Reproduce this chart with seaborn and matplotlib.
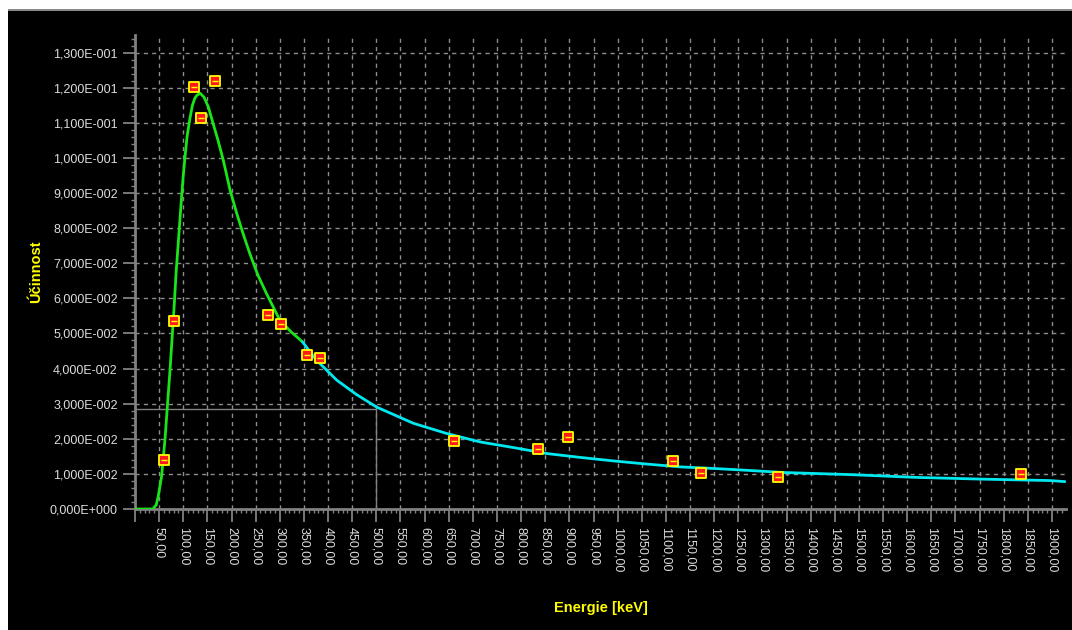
import numpy as np
import pandas as pd
import matplotlib
matplotlib.use("Agg")
import matplotlib.pyplot as plt
import seaborn as sns
from matplotlib.ticker import FuncFormatter, MultipleLocator
from matplotlib.patches import Rectangle

# measured points: energy [keV], efficiency
point_energy = [59.5, 81.0, 122.1, 136.5, 165.9, 276.4, 302.9, 356.0, 383.8,
                661.7, 834.8, 898.0, 1115.5, 1173.2, 1332.5, 1836.1]
point_eff = [0.0139, 0.0535, 0.1203, 0.1115, 0.1220, 0.0552, 0.0526, 0.0438, 0.0430,
             0.0194, 0.0171, 0.0206, 0.0137, 0.0103, 0.0092, 0.0100]

# fitted curve, low-energy part (green)
low_energy = [0, 37, 44, 48, 55, 62, 67, 72.5, 77, 81.5, 85, 90, 95, 100, 104, 108,
              114, 119, 124, 128, 135, 143, 152, 162, 172, 183, 197, 211, 224, 238,
              255, 273, 300, 323, 347]
low_eff = [0, 0, 0.0012, 0.0035, 0.0092, 0.0196, 0.0291, 0.0395, 0.0490, 0.0585,
           0.0670, 0.0765, 0.0860, 0.0950, 0.1008, 0.1062, 0.1114, 0.1150, 0.1170,
           0.1178, 0.1184, 0.1173, 0.1145, 0.1097, 0.1050, 0.0993, 0.0908, 0.0841,
           0.0784, 0.0727, 0.0665, 0.0612, 0.0538, 0.0505, 0.0476]

# fitted curve, high-energy part (cyan)
high_energy = [347, 376, 418, 459, 501, 577, 646, 715, 784, 853, 922, 991, 1060,
               1129, 1205, 1270, 1343, 1481, 1619, 1757, 1896, 1927]
high_eff = [0.0476, 0.0424, 0.0367, 0.0326, 0.0290, 0.0244, 0.0215, 0.0191, 0.0175,
            0.0158, 0.0147, 0.0137, 0.0128, 0.0120, 0.0115, 0.0110, 0.0104, 0.0098,
            0.0090, 0.0085, 0.0081, 0.0078]

cursor_energy = 500
cursor_eff = 0.0286

sns.set_theme(style="dark")
plt.rcParams['font.family'] = ['Liberation Sans', 'DejaVu Sans']

fig = plt.figure(figsize=(10.72, 6.3), dpi=100)
fig.patch.set_facecolor("white")
fig.patches.append(Rectangle((8 / 1072, 0), 1, 1 - 11 / 630, transform=fig.transFigure,
                             facecolor="black", edgecolor="none", zorder=-2))
fig.patches.append(Rectangle((8 / 1072, 1 - 11 / 630), 1, 2 / 630, transform=fig.transFigure,
                             facecolor="#8a8a8a", edgecolor="none", zorder=-2))

ax = fig.add_axes([135 / 1072, 121 / 630, 931 / 1072, 474 / 630])
ax.set_facecolor("black")

low_df = pd.DataFrame({"e": low_energy, "eff": low_eff})
high_df = pd.DataFrame({"e": high_energy, "eff": high_eff})
pts_df = pd.DataFrame({"e": point_energy, "eff": point_eff})

# cursor lines
ax.plot([0, cursor_energy], [cursor_eff, cursor_eff], color="#808080", lw=1, zorder=2)
ax.plot([cursor_energy, cursor_energy], [0, cursor_eff], color="#808080", lw=1, zorder=2)

sns.lineplot(data=low_df, x="e", y="eff", sort=False, estimator=None,
             color="#19e619", lw=2, ax=ax, zorder=3)
sns.lineplot(data=high_df, x="e", y="eff", sort=False, estimator=None,
             color="#00e8f0", lw=2, ax=ax, zorder=3)
sns.scatterplot(data=pts_df, x="e", y="eff", marker="s", s=44, color="#ff1a1a",
                edgecolor="#ffff00", linewidth=1.3, ax=ax, zorder=4)
ax.scatter(pts_df["e"], pts_df["eff"], marker="_", s=14, color="#ffff00",
           linewidths=1, zorder=5)

ax.set_xlim(0, 1929)
ax.set_ylim(0, 0.135)

ax.xaxis.set_major_locator(MultipleLocator(50))
ax.xaxis.set_minor_locator(MultipleLocator(10))
ax.yaxis.set_major_locator(MultipleLocator(0.01))
ax.yaxis.set_minor_locator(MultipleLocator(0.002))


def fmt_x(v, pos):
    if v < 1:
        return ""
    return f"{v:.2f}".replace(".", ",")


def fmt_y(v, pos):
    if abs(v) < 1e-12:
        return "0,000E+000"
    exp = int(np.floor(np.log10(abs(v)) + 1e-9))
    mant = v / 10 ** exp
    return f"{mant:.3f}".replace(".", ",") + f"E{exp:+04d}"


ax.xaxis.set_major_formatter(FuncFormatter(fmt_x))
ax.yaxis.set_major_formatter(FuncFormatter(fmt_y))

ax.grid(True, which="major", color="#8c8c8c", lw=1, linestyle=(0, (3, 3)))
ax.tick_params(axis="both", which="major", length=9, width=1.3, color="#808080",
               labelcolor="#dcdcdc", labelsize=9, bottom=True, left=True)
ax.tick_params(axis="both", which="minor", length=3, width=1, color="#808080",
               bottom=True, left=True)
ax.tick_params(axis="x", which="major", pad=4)
for lab in ax.get_xticklabels():
    lab.set_rotation(-90)

for side in ["top", "right"]:
    ax.spines[side].set_visible(False)
for side in ["left", "bottom"]:
    ax.spines[side].set_color("#808080")
    ax.spines[side].set_linewidth(2)

ax.set_xlabel("Energie [keV]", color="#ffff00", fontsize=10.5, fontweight="bold")
ax.set_ylabel("Účinnost", color="#ffff00", fontsize=10.5, fontweight="bold")
ax.xaxis.set_label_coords(0.5, -0.195)
ax.yaxis.set_label_coords(-0.099, 0.5)

fig.savefig("out.png", dpi=100, facecolor=fig.get_facecolor())
